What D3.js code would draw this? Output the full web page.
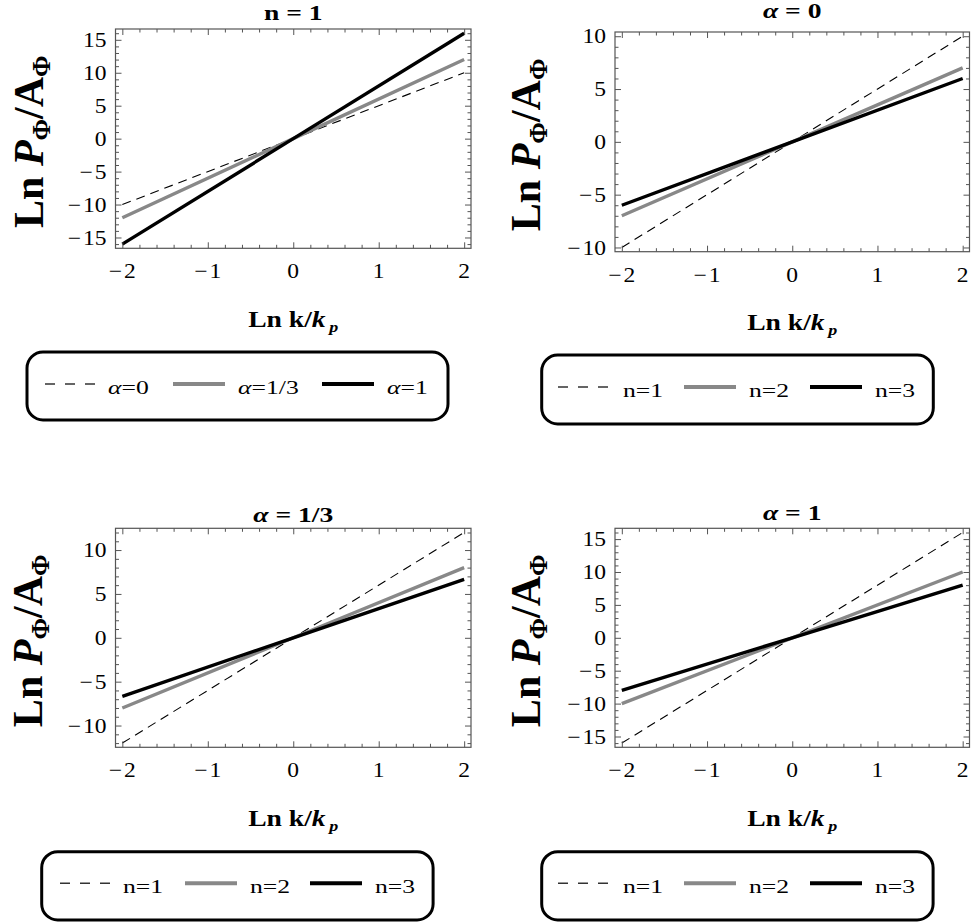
<!DOCTYPE html>
<html>
<head>
<meta charset="utf-8">
<script src="https://cdn.jsdelivr.net/npm/d3@7/dist/d3.min.js"></script>
<style>
html,body{margin:0;padding:0;background:#fff;}
svg{display:block;}
svg text{font-family:"Liberation Serif","Tinos","Times New Roman",Times,serif;}
</style>
</head>
<body>
<svg id="chart" width="971" height="924"></svg>
<script>
// ---------------- DATA ----------------
const lnK = [-2, 0, 2];                       // Ln k/k_p sample points
// panel "n = 1"
const n1_alpha0   = [-10, 0, 10];
const n1_alpha13  = [-12, 0, 12];
const n1_alpha1   = [-16, 0, 16];
// panel "α = 0"
const a0_n1 = [-10, 0, 10];
const a0_n2 = [-7, 0, 7];
const a0_n3 = [-6, 0, 6];
// panel "α = 1/3"
const a13_n1 = [-12, 0, 12];
const a13_n2 = [-8, 0, 8];
const a13_n3 = [-6.67, 0, 6.67];
// panel "α = 1"
const a1_n1 = [-16, 0, 16];
const a1_n2 = [-10, 0, 10];
const a1_n3 = [-8, 0, 8];

const xTicks = [-2, -1, 0, 1, 2];
const legendAlpha = ["α=0", "α=1/3", "α=1"];
const legendN = ["n=1", "n=2", "n=3"];

// ---------------- LAYOUT / STYLE ----------------
const FONT = "Liberation Serif, Tinos, Times New Roman, serif";
const styles = [
  {stroke:"#000", width:1.1, dash:"9,6"},
  {stroke:"#888", width:3.4, dash:null},
  {stroke:"#000", width:3.4, dash:null}
];
const legendStyles = [
  {stroke:"#333", width:1.4, dash:"10,10"},
  {stroke:"#888", width:4, dash:null},
  {stroke:"#000", width:4, dash:null}
];

const panels = [
  {title:[{t:"n = 1"}], series:[n1_alpha0, n1_alpha13, n1_alpha1], labels:legendAlpha,
   fx0:115.5, fx1:471, fy0:29, fy1:248.3, titleY:20, yLabX:43,
   leg:{x:27, y:352, w:421, h:68, items:[18,146,295], texts:[81,211,360], lineY:32, textY:42.3}},
  {title:[{t:"α", i:true},{t:" = 0"}], series:[a0_n1, a0_n2, a0_n3], labels:legendN,
   fx0:615, fx1:969.5, fy0:32, fy1:251.7, titleY:17.5, yLabX:540,
   leg:{x:541.7, y:355, w:391.6, h:69, items:[16.3,142.3,268.3], texts:[81.3,207.3,333.3], lineY:32, textY:42.3}},
  {title:[{t:"α", i:true},{t:" = 1/3"}], series:[a13_n1, a13_n2, a13_n3], labels:legendN,
   fx0:115.5, fx1:471, fy0:528.3, fy1:747.3, titleY:521.5, yLabX:42,
   leg:{x:41.7, y:851.7, w:391.4, h:68.3, items:[18.3,143.3,268.3], texts:[81.3,208.3,333.3], lineY:31.5, textY:41.8}},
  {title:[{t:"α", i:true},{t:" = 1"}], series:[a1_n1, a1_n2, a1_n3], labels:legendN,
   fx0:615, fx1:969.5, fy0:528.3, fy1:747.3, titleY:520, yLabX:540,
   leg:{x:541.7, y:851.7, w:391.4, h:68.3, items:[16.3,142.3,268.3], texts:[81.3,207.3,333.3], lineY:31.5, textY:41.8}}
];

const svg = d3.select("#chart");
svg.append("rect").attr("width",971).attr("height",924).attr("fill","#fff");

// horizontally widen text to mimic the reference typesetting
function stretch(sel, k) {
  sel.each(function() {
    const w = this.getComputedTextLength();
    d3.select(this).attr("textLength", w * k).attr("lengthAdjust", "spacingAndGlyphs");
  });
}

const xExt = d3.extent(lnK);
const xPad = (xExt[1]-xExt[0])*0.02;
const fmt = v => v < 0 ? "\u2212\u200A" + Math.abs(v) : String(v);

panels.forEach(p => {
  const yMax = d3.max(p.series, s => d3.max(s, v => Math.abs(v)));
  const yPad = 2*yMax*0.02;
  const x = d3.scaleLinear().domain([xExt[0]-xPad, xExt[1]+xPad]).range([p.fx0, p.fx1]);
  const y = d3.scaleLinear().domain([-yMax-yPad, yMax+yPad]).range([p.fy1, p.fy0]);
  const g = svg.append("g");

  const cid = "clip" + Math.round(p.fx0) + Math.round(p.fy0);
  svg.append("clipPath").attr("id", cid).append("rect")
    .attr("x", p.fx0).attr("y", p.fy0).attr("width", p.fx1-p.fx0).attr("height", p.fy1-p.fy0);

  // lines
  const line = d3.line().x((d,i)=>x(lnK[i])).y(d=>y(d));
  p.series.forEach((s,i) => {
    const st = styles[i];
    g.append("path").datum(s).attr("d", line).attr("fill","none")
      .attr("stroke", st.stroke).attr("stroke-width", st.width)
      .attr("stroke-dasharray", st.dash).attr("clip-path", `url(#${cid})`);
  });

  // ticks
  const frameColor = "#555";
  const yMajor = d3.range(-20, 21, 5).filter(v => v >= y.domain()[0] && v <= y.domain()[1]);
  const yMinor = d3.range(-20, 21, 1).filter(v => v % 5 !== 0 && v >= y.domain()[0] && v <= y.domain()[1]);
  const xMinor = d3.range(-20, 21, 2).filter(v => v % 10 !== 0).map(v => v/10)
                   .filter(v => v >= x.domain()[0] && v <= x.domain()[1]);

  const mk = (axisFn, scale, vals, size) => axisFn(scale).tickValues(vals).tickSize(-size).tickFormat("");
  const place = (ax, tx, ty) => {
    const a = g.append("g").attr("transform", `translate(${tx},${ty})`).call(ax);
    a.select(".domain").remove();
    a.selectAll("line").attr("stroke", frameColor).attr("stroke-width", 1);
  };
  place(mk(d3.axisBottom, x, xTicks, 6), 0, p.fy1);
  place(mk(d3.axisBottom, x, xMinor, 3.5), 0, p.fy1);
  place(mk(d3.axisTop, x, xTicks, 6), 0, p.fy0);
  place(mk(d3.axisTop, x, xMinor, 3.5), 0, p.fy0);
  place(mk(d3.axisLeft, y, yMajor, 6), p.fx0, 0);
  place(mk(d3.axisLeft, y, yMinor, 3.5), p.fx0, 0);
  place(mk(d3.axisRight, y, yMajor, 6), p.fx1, 0);
  place(mk(d3.axisRight, y, yMinor, 3.5), p.fx1, 0);

  // frame
  g.append("rect").attr("x", p.fx0).attr("y", p.fy0)
    .attr("width", p.fx1-p.fx0).attr("height", p.fy1-p.fy0)
    .attr("fill","none").attr("stroke", frameColor).attr("stroke-width", 1.2);

  // tick labels
  const xl1 = g.selectAll(".xtl").data(xTicks).enter().append("text").attr("class","xtl")
    .attr("x", d=>x(d)).attr("y", p.fy1+30).attr("text-anchor","middle")
    .attr("font-family", FONT).attr("font-size", 21).text(d=>fmt(d));
  stretch(xl1, 1.12);
  const yl1 = g.selectAll(".ytl").data(yMajor).enter().append("text").attr("class","ytl")
    .attr("x", p.fx0 - 9).attr("y", d=>y(d)).attr("dy","0.34em").attr("text-anchor","end")
    .attr("font-family", FONT).attr("font-size", 21).text(d=>fmt(d));
  stretch(yl1, 1.12);

  // title
  const cx = (p.fx0+p.fx1)/2;
  const tt = g.append("text").attr("x", cx).attr("y", p.titleY).attr("text-anchor","middle")
    .attr("font-family", FONT).attr("font-size", 20).attr("font-weight","bold");
  p.title.forEach(s => tt.append("tspan").attr("font-style", s.i ? "italic" : null).text(s.t));
  stretch(tt, 1.38);

  // x label
  const xl = g.append("text").attr("x", cx).attr("y", p.fy1+78.5).attr("text-anchor","middle")
    .attr("font-family", FONT).attr("font-size", 23).attr("font-weight","bold");
  xl.append("tspan").text("Ln k/");
  xl.append("tspan").attr("font-style","italic").text("k");
  xl.append("tspan").attr("font-style","italic").attr("font-size",15).attr("dy",5).text("\u2009p");
  stretch(xl, 1.2);

  // y label
  const cy = (p.fy0+p.fy1)/2 + 3;
  const yl = g.append("text").attr("transform", `translate(${p.yLabX},${cy}) rotate(-90)`)
    .attr("text-anchor","middle").attr("font-family", FONT).attr("font-size", 42).attr("font-weight","bold");
  yl.append("tspan").text("Ln ");
  yl.append("tspan").attr("font-style","italic").text("P");
  yl.append("tspan").attr("font-size",26).attr("dy",7).text("Φ");
  yl.append("tspan").attr("dy",-7).text("/A");
  yl.append("tspan").attr("font-size",26).attr("dy",7).text("Φ");

  // legend
  const L = p.leg;
  const lg = svg.append("g").attr("transform", `translate(${L.x},${L.y})`);
  lg.append("rect").attr("width", L.w).attr("height", L.h).attr("rx", 16).attr("ry", 16)
    .attr("fill","#fff").attr("stroke","#000").attr("stroke-width", 3);
  p.labels.forEach((lab,i) => {
    const st = legendStyles[i];
    lg.append("line").attr("x1", L.items[i]).attr("x2", L.items[i]+52)
      .attr("y1", L.lineY).attr("y2", L.lineY)
      .attr("stroke", st.stroke).attr("stroke-width", st.width).attr("stroke-dasharray", st.dash);
    const t = lg.append("text").attr("x", L.texts[i]).attr("y", L.textY)
      .attr("font-family", FONT).attr("font-size", 19);
    if (lab.startsWith("α")) {
      t.append("tspan").attr("font-style","italic").text("α");
      t.append("tspan").text(lab.slice(1));
    } else {
      t.text(lab);
    }
    stretch(t, 1.35);
  });
});
</script>
</body>
</html>
